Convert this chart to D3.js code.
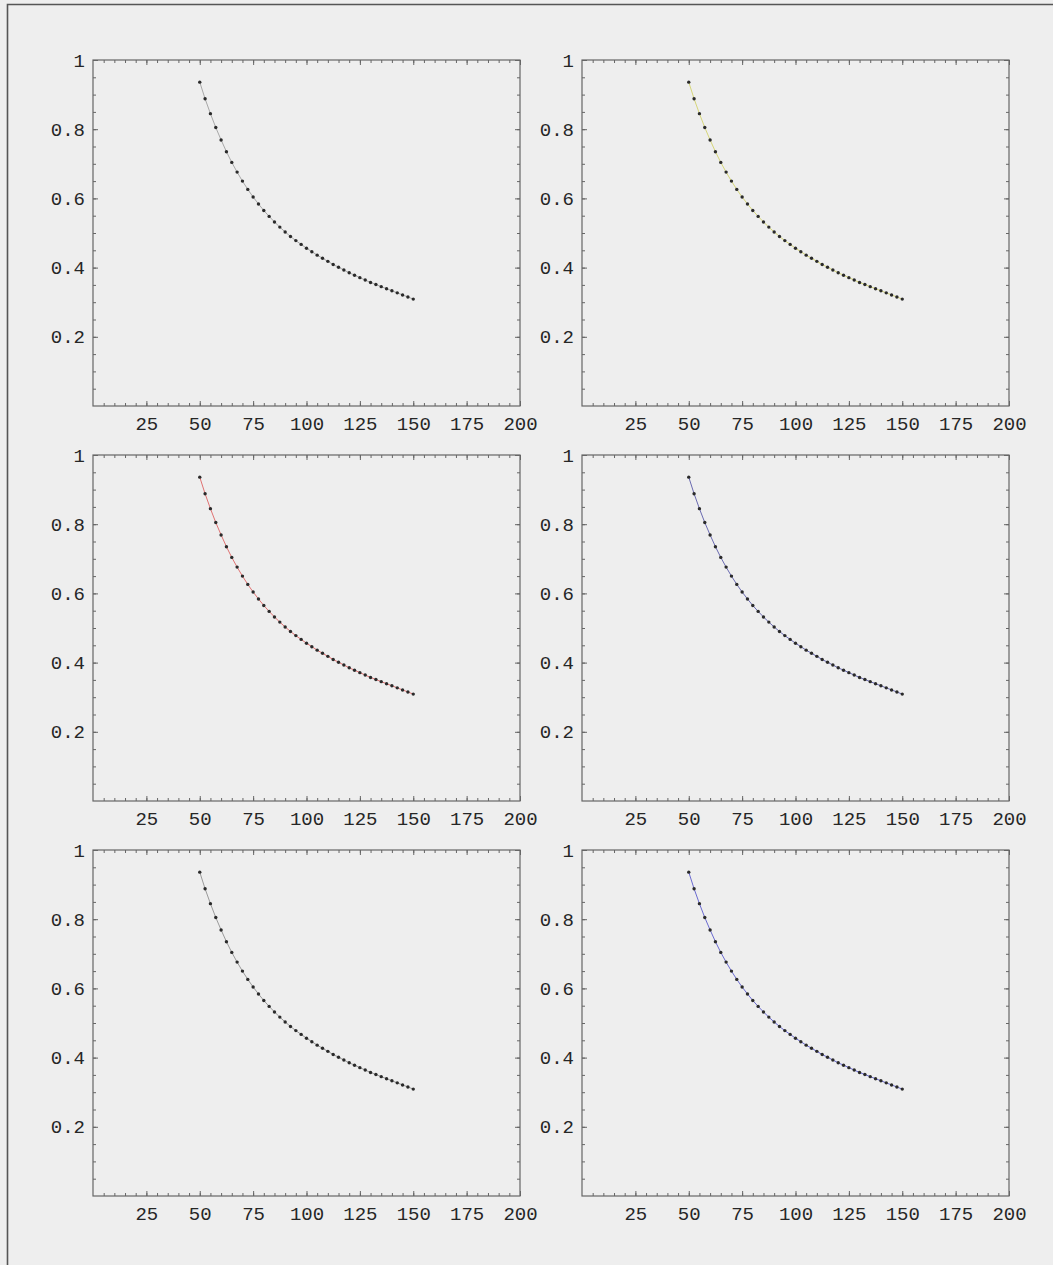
<!DOCTYPE html>
<html>
<head>
<meta charset="utf-8">
<script src="https://cdn.jsdelivr.net/npm/d3@7"></script>
<style>
  html, body { margin: 0; padding: 0; background: #eeeeee; }
  svg { display: block; }
  .tick text { font-family: "Liberation Mono", "DejaVu Sans Mono", monospace; font-size: 19px; fill: #262626; }
  .domain { stroke: none; }
  .tick line { stroke: #666; stroke-width: 1; }
</style>
</head>
<body>
<script>
// data (same curve in all six panels)
var xValues = [50, 52.5, 55, 57.5, 60, 62.5, 65, 67.5, 70, 72.5, 75, 77.5, 80, 82.5, 85, 87.5, 90, 92.5, 95, 97.5,
    100, 102.5, 105, 107.5, 110, 112.5, 115, 117.5, 120, 122.5, 125, 127.5, 130, 132.5, 135, 137.5, 140, 142.5, 145, 147.5, 150];
var yValues = [0.936, 0.888, 0.845, 0.805, 0.769, 0.735, 0.704, 0.676, 0.650, 0.626, 0.604, 0.584, 0.565, 0.548, 0.532, 0.517,
    0.503, 0.490, 0.478, 0.467, 0.456, 0.446, 0.436, 0.427, 0.418, 0.409, 0.401, 0.393, 0.385, 0.378, 0.371, 0.364,
    0.357, 0.351, 0.345, 0.339, 0.333, 0.327, 0.321, 0.315, 0.309];

var xMajor = [25, 50, 75, 100, 125, 150, 175, 200];
var yMajor = [0.2, 0.4, 0.6, 0.8, 1];
var xMinor = d3.range(5, 200, 5);
var yMinor = d3.range(0.05, 1, 0.05);

// line colour under the dots, per panel (row by row)
var panelColors = ["#a8a8a8", "#d6d67a", "#e07272", "#6a6ab0", "#9a9a9a", "#6a6ad0"];

var W = 1053, H = 1265;
var svg = d3.select("body").append("svg").attr("width", W).attr("height", H);

// outer border of the scan
svg.append("path")
    .attr("d", "M7.5," + H + " V4.5 H" + W)
    .attr("fill", "none")
    .attr("stroke", "#555")
    .attr("stroke-width", 1.6);

var panelW = 427, panelH = 346;
var lefts = [93, 582], tops = [60, 455, 850];

panelColors.forEach(function(col, i) {
    var px = lefts[i % 2], py = tops[Math.floor(i / 2)];
    var g = svg.append("g").attr("transform", "translate(" + px + "," + py + ")");

    var x = d3.scaleLinear().domain([0, 200]).range([0, panelW]);
    var y = d3.scaleLinear().domain([0, 1]).range([panelH, 0]);

    g.append("rect")
        .attr("width", panelW).attr("height", panelH)
        .attr("fill", "none").attr("stroke", "#666").attr("stroke-width", 1.2);

    // minor ticks, all four sides
    g.append("g").attr("transform", "translate(0," + panelH + ")")
        .call(d3.axisBottom(x).tickValues(xMinor).tickSize(-3).tickFormat(""));
    g.append("g").call(d3.axisTop(x).tickValues(xMinor).tickSize(-3).tickFormat(""));
    g.append("g").call(d3.axisLeft(y).tickValues(yMinor).tickSize(-3).tickFormat(""));
    g.append("g").attr("transform", "translate(" + panelW + ",0)")
        .call(d3.axisRight(y).tickValues(yMinor).tickSize(-3).tickFormat(""));

    // major ticks, labels on left and bottom
    g.append("g").attr("transform", "translate(0," + panelH + ")")
        .call(d3.axisBottom(x).tickValues(xMajor).tickSize(-5).tickPadding(11).tickFormat(d3.format("d")));
    g.append("g").call(d3.axisTop(x).tickValues(xMajor).tickSize(-5).tickFormat(""));
    g.append("g")
        .call(d3.axisLeft(y).tickValues(yMajor).tickSize(-5).tickPadding(8)
            .tickFormat(function(d) { return d === 1 ? "1" : d3.format(".1f")(d); }));
    g.append("g").attr("transform", "translate(" + panelW + ",0)")
        .call(d3.axisRight(y).tickValues(yMajor).tickSize(-5).tickFormat(""));

    var pts = xValues.map(function(v, k) { return [v, yValues[k]]; });

    g.append("path")
        .datum(pts)
        .attr("fill", "none")
        .attr("stroke", col)
        .attr("stroke-width", 1)
        .attr("d", d3.line().x(function(d) { return x(d[0]); }).y(function(d) { return y(d[1]); }));

    g.selectAll(".dot")
        .data(pts)
        .enter().append("circle")
        .attr("class", "dot")
        .attr("cx", function(d) { return x(d[0]); })
        .attr("cy", function(d) { return y(d[1]); })
        .attr("r", 1.7)
        .attr("fill", "#2a2a2a");
});
</script>
</body>
</html>
